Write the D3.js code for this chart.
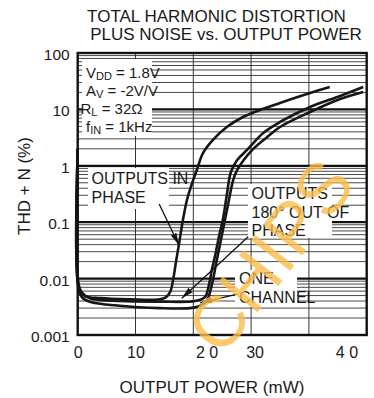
<!DOCTYPE html>
<html lang="en">
<head>
<meta charset="UTF-8">
<title>Total Harmonic Distortion Plus Noise vs. Output Power</title>
<style>
  body { margin: 0; background: #fff; }
  svg text { font-family: "Liberation Sans", Arial, sans-serif; fill: #1a1a1a; }
</style>
<script src="https://d3js.org/d3.v7.min.js"></script>
</head>
<body>
<div id="chart"></div>
<script>
// output power (mW) / THD+N (%)
const inPhasePower = [0, 0.05, 0.4, 1.3, 3.9, 9, 14.2, 15.3, 16, 16.5, 17, 17.5, 18.2, 18.9, 19.4, 20.6, 21.7, 23.4, 25.8, 28.6, 31.5, 35, 40.2, 43.6];
const inPhaseThd = [2, 0.0094, 0.0063, 0.0049, 0.0045, 0.0043, 0.0043, 0.0047, 0.0058, 0.0094, 0.0197, 0.0395, 0.109, 0.248, 0.372, 0.844, 1.69, 2.87, 4.87, 7.33, 9.75, 13.0, 19.5, 24.9];

const outPhasePower = [0, 0.05, 0.74, 2.1, 7.3, 14.2, 20.3, 22.0, 22.7, 23.2, 23.8, 24.5, 25.1, 25.8, 26.5, 27.6, 29.3, 32.1, 35, 40.2, 45.4, 49.4];
const outPhaseThd = [2, 0.0087, 0.0056, 0.0045, 0.0040, 0.0039, 0.0040, 0.0047, 0.0077, 0.0142, 0.0262, 0.0593, 0.109, 0.303, 0.776, 1.27, 1.91, 3.82, 5.98, 11.0, 17.3, 24.9];

const oneChannelPower = [0, 0.05, 0.74, 2.1, 7.3, 14.2, 19.4, 21.2, 22.4, 23.2, 23.9, 24.6, 25.3, 26.0, 26.9, 27.6, 30.2, 32.8, 35, 40.2, 45.4, 49.4];
const oneChannelThd = [2, 0.0077, 0.0047, 0.0039, 0.0033, 0.0030, 0.0030, 0.0033, 0.0042, 0.0077, 0.0174, 0.0395, 0.0891, 0.202, 0.560, 0.844, 1.91, 3.24, 4.87, 8.99, 15.3, 20.4];

const yTickValues = [0.001, 0.01, 0.1, 1, 10, 100];
const yTickLabels = ["0.001", "0.01", "0.1", "1", "10", "100"];
const xGridValues = [10, 20, 30, 40];
// the printed x labels sit a little off their grid lines
const xLabelValues = [0, 10, 22.3, 30.6, 46.5];
const xLabelText = ["0", "10", "2 0", "30", "4 0"];

// arrow [power, thd] start -> tip
const arrowFrom = [[14.1, 0.21], [29.5, 0.055], [27.6, 0.0053]];
const arrowTo = [[17.5, 0.0395], [18.0, 0.0045], [21.2, 0.0037]];

const width = 374, height = 398;
const margin = {top: 53, right: 7.3, bottom: 63, left: 77.7};

const svg = d3.select("#chart").append("svg")
  .attr("width", width)
  .attr("height", height);

const x = d3.scaleLinear().domain([0, 50]).range([margin.left, width - margin.right]);
const y = d3.scaleLog().domain([0.001, 100]).range([height - margin.bottom, margin.top]);

// title
svg.append("text").attr("x", 216.5).attr("y", 22).attr("text-anchor", "middle")
  .style("font-size", "17px").text("TOTAL HARMONIC DISTORTION");
svg.append("text").attr("x", 226).attr("y", 39.5).attr("text-anchor", "middle")
  .style("font-size", "17px").text("PLUS NOISE vs. OUTPUT POWER");

// grid
const minor = [];
yTickValues.slice(0, -1).forEach(d => { for (let m = 2; m <= 9; m++) minor.push(d * m); });

svg.append("g").selectAll("line").data(minor).join("line")
  .attr("x1", x(0)).attr("x2", x(50))
  .attr("y1", d => y(d)).attr("y2", d => y(d))
  .attr("stroke", "#333").attr("stroke-width", 0.9);

svg.append("g").selectAll("line").data(xGridValues).join("line")
  .attr("x1", d => x(d)).attr("x2", d => x(d))
  .attr("y1", y(0.001)).attr("y2", y(100))
  .attr("stroke", "#333").attr("stroke-width", 1);

svg.append("g").selectAll("line").data(yTickValues.slice(1, -1)).join("line")
  .attr("x1", x(0)).attr("x2", x(50))
  .attr("y1", d => y(d)).attr("y2", d => y(d))
  .attr("stroke", "#111").attr("stroke-width", 2.2);

// white patches behind the notes
const boxes = [[82, 59, 70, 77], [88, 168, 81, 41], [248, 184, 84, 54], [235, 270, 62, 37]];
svg.append("g").selectAll("rect").data(boxes).join("rect")
  .attr("x", d => d[0]).attr("y", d => d[1]).attr("width", d => d[2]).attr("height", d => d[3])
  .attr("fill", "#fff");

// curves
const line = d3.line().x(d => x(d[0])).y(d => y(d[1])).curve(d3.curveCatmullRom.alpha(0.5));
const series = [
  d3.zip(inPhasePower, inPhaseThd),
  d3.zip(outPhasePower, outPhaseThd),
  d3.zip(oneChannelPower, oneChannelThd)
];
svg.append("g").selectAll("path").data(series).join("path")
  .attr("d", line)
  .attr("fill", "none")
  .attr("stroke", "#161616")
  .attr("stroke-width", 2.6)
  .attr("stroke-linejoin", "round");

// arrows
svg.append("defs").append("marker")
  .attr("id", "head").attr("markerUnits", "userSpaceOnUse")
  .attr("markerWidth", 13).attr("markerHeight", 8)
  .attr("refX", 12).attr("refY", 4).attr("orient", "auto")
  .append("path").attr("d", "M0,1 L12,4 L0,7 Z").attr("fill", "#111");

svg.append("g").selectAll("line").data(d3.zip(arrowFrom, arrowTo)).join("line")
  .attr("x1", d => x(d[0][0])).attr("y1", d => y(d[0][1]))
  .attr("x2", d => x(d[1][0])).attr("y2", d => y(d[1][1]))
  .attr("stroke", "#111").attr("stroke-width", 1.3)
  .attr("marker-end", "url(#head)");

// frame
svg.append("rect")
  .attr("x", x(0)).attr("y", y(100))
  .attr("width", x(50) - x(0)).attr("height", y(0.001) - y(100))
  .attr("fill", "none").attr("stroke", "#111").attr("stroke-width", 2.4);

// axes
const yAxis = svg.append("g")
  .attr("transform", `translate(${x(0)},0)`)
  .call(d3.axisLeft(y).tickValues(yTickValues).tickSize(0).tickPadding(8)
    .tickFormat((d, i) => yTickLabels[i]));
yAxis.select(".domain").remove();
yAxis.selectAll("text").attr("dy", "0.42em")
  .style("font-size", "15.5px").style("font-family", null).attr("fill", "#1a1a1a");

const xAxis = svg.append("g")
  .attr("transform", `translate(0,${y(0.001)})`)
  .call(d3.axisBottom(x).tickValues(xLabelValues).tickSize(0).tickPadding(12)
    .tickFormat((d, i) => xLabelText[i]));
xAxis.select(".domain").remove();
xAxis.selectAll("text")
  .style("font-size", "16px").style("font-family", null).attr("fill", "#1a1a1a");

svg.append("text").attr("x", 212).attr("y", 393).attr("text-anchor", "middle")
  .style("font-size", "17px").text("OUTPUT POWER (mW)");
svg.append("text").attr("transform", "translate(29.5,186) rotate(-90)")
  .attr("text-anchor", "middle").style("font-size", "17px").text("THD + N (%)");

// test conditions
const cond = svg.append("g").style("font-size", "15px");
function condLine(px, py, main, sub, rest) {
  const t = cond.append("text").attr("x", px).attr("y", py);
  t.append("tspan").text(main);
  t.append("tspan").attr("dy", 2.5).style("font-size", "11px").text(sub);
  t.append("tspan").attr("dy", -2.5).text(rest);
}
condLine(86, 77.5, "V", "DD", " = 1.8V");
condLine(86, 95.5, "A", "V", " = -2V/V");
condLine(80.5, 113.5, "R", "L", " = 32Ω");
condLine(86, 131.5, "f", "IN", " = 1kHz");

// notes
const notes = [
  [91.5, 184, ["OUTPUTS IN", "PHASE"]],
  [251.5, 199, ["OUTPUTS", "180° OUT OF", "PHASE"]],
  [239, 284, ["ONE", "CHANNEL"]]
];
notes.forEach(n => {
  const t = svg.append("text").attr("x", n[0]).attr("y", n[1]).style("font-size", "16px");
  n[2].forEach((s, i) => t.append("tspan").attr("x", n[0]).attr("dy", i ? 18.5 : 0).text(s));
});

// watermark
svg.append("text")
  .attr("transform", "translate(222,358) rotate(-52)")
  .style("font-size", "72px").style("fill", "#fbbd4c").style("opacity", 0.8)
  .text("CHIPS");
</script>
</body>
</html>
